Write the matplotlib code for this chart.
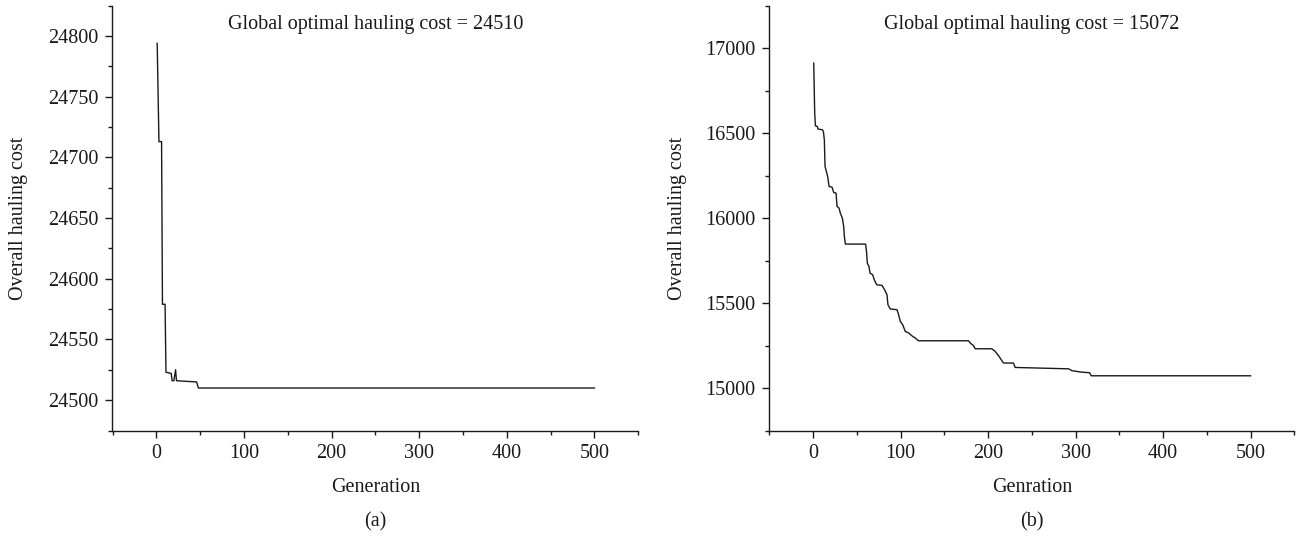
import matplotlib
matplotlib.use("Agg")
import matplotlib.pyplot as plt
from matplotlib.ticker import MultipleLocator

plt.rcParams['font.family'] = ['Liberation Serif', 'DejaVu Serif']

# (a) convergence curve
gen_a = [1, 3, 6, 7, 10, 11, 17, 18, 20, 22, 23, 46, 48, 500]
cost_a = [24794, 24713, 24713, 24579, 24579, 24523, 24522, 24516, 24516,
          24525, 24516, 24515, 24510, 24510]

# (b) convergence curve
gen_b = [0.8, 1.1, 1.9, 2.7, 4.9, 5.7, 10.7, 11.8, 12.9, 13.7, 15.2, 16.7, 18.3,
         21.7, 23.6, 26.3, 27.4, 29.7, 31.2, 33.5, 35.0, 35.8, 36.9, 60.1, 61.3,
         62.0, 63.9, 65.1, 68.1, 70.0, 72.7, 78.8, 81.8, 84.5, 85.6, 88.3, 95.9,
         97.8, 99.7, 102.4, 105.4, 109.2, 113.8, 116.8, 120.6, 177.7, 179.6,
         183.4, 185.3, 204.3, 208.1, 212, 217.6, 229, 231, 292, 296, 306, 316,
         318, 500]
cost_b = [16912, 16824, 16618, 16543, 16539, 16524, 16520, 16510, 16461, 16304,
          16275, 16245, 16186, 16182, 16151, 16147, 16069, 16059, 16029, 16000,
          15951, 15892, 15847, 15847, 15794, 15735, 15716, 15676, 15667, 15637,
          15608, 15604, 15578, 15549, 15490, 15465, 15461, 15431, 15392, 15373,
          15333, 15324, 15304, 15294, 15278, 15278, 15265, 15249, 15231, 15231,
          15216, 15190, 15147, 15147, 15121, 15113, 15102, 15094, 15090, 15072,
          15072]

titles = ["Global optimal hauling cost = 24510", "Global optimal hauling cost = 15072"]
xlabels = ["Generation", "Genration"]
panel_labels = ["(a)", "(b)"]
ylabel = "Overall hauling cost"

fig = plt.figure(figsize=(12.97, 5.39), dpi=100)
W, H = 1297, 539
ax_a = fig.add_axes([112.5 / W, (539 - 430.5) / H, (638.3 - 112.5) / W, (430.5 - 5.7) / H])
ax_b = fig.add_axes([769.3 / W, (539 - 430.5) / H, (1294.3 - 769.3) / W, (430.5 - 5.7) / H])

ink = '#1a1a1a'
fs = 14.5

for ax, gx, cy, ylim, ymaj, ymin, title, xl, pl, ylx in [
        (ax_a, gen_a, cost_a, (24475, 24825), 50, 25, titles[0], xlabels[0], panel_labels[0], -0.161),
        (ax_b, gen_b, cost_b, (14750, 17250), 500, 250, titles[1], xlabels[1], panel_labels[1], -0.157)]:
    ax.plot(gx, cy, color=ink, lw=1.0)
    ax.set_xlim(-50, 550)
    ax.set_ylim(*ylim)
    ax.xaxis.set_major_locator(MultipleLocator(100))
    ax.xaxis.set_minor_locator(MultipleLocator(50))
    ax.yaxis.set_major_locator(MultipleLocator(ymaj))
    ax.yaxis.set_minor_locator(MultipleLocator(ymin))
    for s in ['top', 'right']:
        ax.spines[s].set_visible(False)
    for s in ['left', 'bottom']:
        ax.spines[s].set_color(ink)
        ax.spines[s].set_linewidth(1.0)
    ax.tick_params(which='major', length=5, width=1.0, color=ink, labelsize=fs,
                   labelcolor=ink, pad=5)
    ax.tick_params(which='minor', length=3, width=1.0, color=ink)
    ax.set_ylabel(ylabel, fontsize=fs, color=ink)
    ax.yaxis.set_label_coords(ylx, 0.5)
    ax.set_xlabel(xl, fontsize=fs, color=ink)
    ax.xaxis.set_label_coords(0.5, -0.112)
    ax.text(0.5, 0.955, title, transform=ax.transAxes, ha='center', va='center',
            fontsize=fs, color=ink)
    ax.text(0.5, -0.215, pl, transform=ax.transAxes, ha='center', va='center',
            fontsize=fs, color=ink)

fig.savefig("out.png", dpi=100)
